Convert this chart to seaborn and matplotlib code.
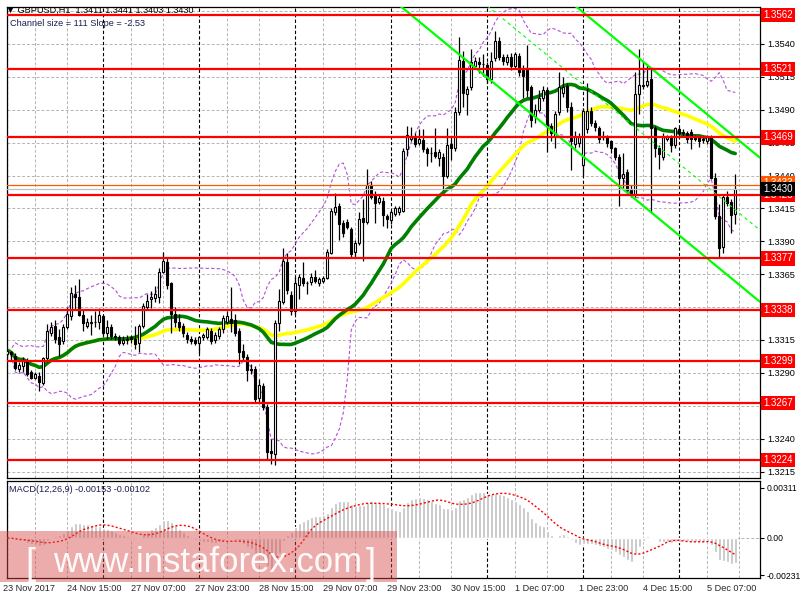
import numpy as np
import pandas as pd
import matplotlib
matplotlib.use("Agg")
import matplotlib.pyplot as plt
import matplotlib.transforms as mtransforms
from matplotlib.patches import Rectangle
import seaborn as sns

# GBPUSD H1 candles
opens = [
    1.3304, 1.3306, 1.3303, 1.3293, 1.3295, 1.3299, 1.3291, 1.3286, 1.3288, 1.3282,
    1.3301, 1.3320, 1.3326, 1.3317, 1.3314, 1.3325, 1.3333, 1.3350, 1.3348, 1.3334,
    1.3326, 1.3329, 1.3329, 1.3329, 1.3333, 1.3320, 1.3325, 1.3318, 1.3317, 1.3313,
    1.3315, 1.3317, 1.3316, 1.3313, 1.3326, 1.3340, 1.3346, 1.3347, 1.3348, 1.3367,
    1.3374, 1.3358, 1.3335, 1.3329, 1.3326, 1.3319, 1.3316, 1.3315, 1.3313, 1.3317,
    1.3317, 1.3322, 1.3315, 1.3318, 1.3323, 1.3329, 1.3331, 1.3330, 1.3322, 1.3307,
    1.3302, 1.3293, 1.3293, 1.3271, 1.3280, 1.3264, 1.3231, 1.3228, 1.3328, 1.3344,
    1.3374, 1.3349, 1.3337, 1.3357, 1.3362, 1.3358, 1.3359, 1.3363, 1.3358, 1.3360,
    1.3362, 1.3381, 1.3412, 1.3417, 1.3404, 1.3405, 1.3399, 1.3382, 1.3389, 1.3408,
    1.3405, 1.3433, 1.3426, 1.3420, 1.3421, 1.3409, 1.3406, 1.3411, 1.3412, 1.3413,
    1.3460, 1.3468, 1.3470, 1.3465, 1.3467, 1.3460, 1.3457, 1.3458, 1.3453, 1.3454,
    1.3440, 1.3464, 1.3461, 1.3488, 1.3527, 1.3502, 1.3507, 1.3523, 1.3526, 1.3525,
    1.3524, 1.3513, 1.3529, 1.3542, 1.3530, 1.3526, 1.3530, 1.3523, 1.3531, 1.3520,
    1.3520, 1.3507, 1.3485, 1.3490, 1.3499, 1.3505, 1.3478, 1.3469, 1.3488, 1.3503,
    1.3508, 1.3492, 1.3464, 1.3465, 1.3448, 1.3475, 1.3489, 1.3480, 1.3476, 1.3469,
    1.3469, 1.3466, 1.3461, 1.3454, 1.3438, 1.3443, 1.3429, 1.3426, 1.3502, 1.3508,
    1.3509, 1.3513, 1.3476, 1.3461, 1.3454, 1.3468, 1.3469, 1.3463, 1.3475, 1.3473,
    1.3472, 1.3473, 1.3469, 1.3469, 1.3468, 1.3466, 1.3469, 1.3438, 1.3409, 1.3386,
    1.3424, 1.3420, 1.3411,
]
highs = [
    1.3309, 1.3307, 1.3305, 1.3298, 1.3302, 1.3301, 1.3292, 1.3291, 1.3291, 1.3302,
    1.3327, 1.3329, 1.3330, 1.3323, 1.3327, 1.3340, 1.3355, 1.3357, 1.3361, 1.3338,
    1.3332, 1.3334, 1.3337, 1.3339, 1.3334, 1.3330, 1.3327, 1.3320, 1.3319, 1.3318,
    1.3319, 1.3319, 1.3326, 1.3327, 1.3343, 1.3350, 1.3352, 1.3356, 1.3370, 1.3382,
    1.3378, 1.3359, 1.3340, 1.3335, 1.3328, 1.3321, 1.3318, 1.3317, 1.3318, 1.3320,
    1.3325, 1.3324, 1.3321, 1.3325, 1.3334, 1.3337, 1.3355, 1.3335, 1.3324, 1.3312,
    1.3304, 1.3297, 1.3295, 1.3285, 1.3282, 1.3266, 1.3240, 1.3330, 1.3354, 1.3385,
    1.3381, 1.3352, 1.3363, 1.3365, 1.3374, 1.3360, 1.3366, 1.3368, 1.3363, 1.3364,
    1.3384, 1.3415, 1.3427, 1.3419, 1.3406, 1.3407, 1.3401, 1.3391, 1.3412, 1.3422,
    1.3445, 1.3436, 1.3428, 1.3425, 1.3424, 1.3411, 1.3414, 1.3417, 1.3417, 1.3461,
    1.3478, 1.3477, 1.3472, 1.3475, 1.3475, 1.3462, 1.3462, 1.3476, 1.3460, 1.3457,
    1.3476, 1.3470, 1.3492, 1.3545, 1.3535, 1.3508, 1.3536, 1.3530, 1.3530, 1.3532,
    1.3526, 1.3534, 1.3550, 1.3545, 1.3532, 1.3532, 1.3533, 1.3534, 1.3533, 1.3524,
    1.3539, 1.3509, 1.3494, 1.3505, 1.3508, 1.3507, 1.3480, 1.3489, 1.3519, 1.3515,
    1.3510, 1.3496, 1.3474, 1.3472, 1.3491, 1.3510, 1.3492, 1.3482, 1.3478, 1.3474,
    1.3471, 1.3467, 1.3462, 1.3456, 1.3457, 1.3445, 1.3433, 1.3519, 1.3536, 1.3526,
    1.3525, 1.3521, 1.3478, 1.3463, 1.3472, 1.3471, 1.3471, 1.3477, 1.3477, 1.3475,
    1.3474, 1.3475, 1.3471, 1.3470, 1.3470, 1.3471, 1.3471, 1.3442, 1.3418, 1.3426,
    1.3428, 1.3422, 1.3441,
]
lows = [
    1.3301, 1.3300, 1.3292, 1.3291, 1.3291, 1.3288, 1.3285, 1.3285, 1.3276, 1.3281,
    1.3298, 1.3318, 1.3313, 1.3303, 1.3312, 1.3323, 1.3330, 1.3338, 1.3333, 1.3322,
    1.3324, 1.3319, 1.3325, 1.3323, 1.3318, 1.3316, 1.3316, 1.3315, 1.3311, 1.3311,
    1.3312, 1.3313, 1.3308, 1.3306, 1.3324, 1.3338, 1.3339, 1.3344, 1.3343, 1.3366,
    1.3354, 1.3320, 1.3325, 1.3322, 1.3317, 1.3313, 1.3312, 1.3311, 1.3305, 1.3315,
    1.3316, 1.3312, 1.3313, 1.3316, 1.3320, 1.3327, 1.3321, 1.3318, 1.3297, 1.3299,
    1.3284, 1.3289, 1.3268, 1.3268, 1.3262, 1.3224, 1.3221, 1.3220, 1.3322, 1.3342,
    1.3350, 1.3334, 1.3335, 1.3346, 1.3356, 1.3350, 1.3357, 1.3358, 1.3356, 1.3358,
    1.3361, 1.3380, 1.3410, 1.3391, 1.3393, 1.3399, 1.3377, 1.3378, 1.3387, 1.3375,
    1.3403, 1.3422, 1.3404, 1.3418, 1.3402, 1.3400, 1.3403, 1.3409, 1.3410, 1.3412,
    1.3455, 1.3466, 1.3462, 1.3463, 1.3458, 1.3447, 1.3450, 1.3453, 1.3447, 1.3429,
    1.3438, 1.3452, 1.3459, 1.3486, 1.3492, 1.3486, 1.3505, 1.3521, 1.3518, 1.3516,
    1.3510, 1.3510, 1.3527, 1.3528, 1.3524, 1.3524, 1.3520, 1.3521, 1.3516, 1.3499,
    1.3500, 1.3477, 1.3480, 1.3488, 1.3497, 1.3458, 1.3466, 1.3461, 1.3486, 1.3500,
    1.3488, 1.3444, 1.3461, 1.3462, 1.3440, 1.3472, 1.3478, 1.3474, 1.3465, 1.3467,
    1.3462, 1.3457, 1.3452, 1.3417, 1.3430, 1.3425, 1.3424, 1.3424, 1.3487, 1.3506,
    1.3507, 1.3412, 1.3454, 1.3445, 1.3452, 1.3466, 1.3458, 1.3461, 1.3470, 1.3470,
    1.3465, 1.3460, 1.3466, 1.3462, 1.3465, 1.3464, 1.3437, 1.3407, 1.3377, 1.3381,
    1.3417, 1.3396, 1.3403,
]
closes = [
    1.3307, 1.3304, 1.3294, 1.3296, 1.3300, 1.3289, 1.3286, 1.3289, 1.3283, 1.3301,
    1.3322, 1.3325, 1.3316, 1.3312, 1.3325, 1.3335, 1.3351, 1.3348, 1.3334, 1.3328,
    1.3329, 1.3328, 1.3329, 1.3334, 1.3320, 1.3325, 1.3318, 1.3317, 1.3313, 1.3315,
    1.3316, 1.3316, 1.3312, 1.3326, 1.3341, 1.3345, 1.3348, 1.3350, 1.3367, 1.3375,
    1.3357, 1.3335, 1.3329, 1.3325, 1.3320, 1.3316, 1.3314, 1.3313, 1.3317, 1.3319,
    1.3323, 1.3314, 1.3319, 1.3323, 1.3332, 1.3333, 1.3328, 1.3320, 1.3306, 1.3302,
    1.3292, 1.3292, 1.3270, 1.3281, 1.3264, 1.3230, 1.3229, 1.3328, 1.3345, 1.3375,
    1.3353, 1.3337, 1.3358, 1.3363, 1.3358, 1.3358, 1.3363, 1.3360, 1.3361, 1.3362,
    1.3382, 1.3413, 1.3416, 1.3403, 1.3396, 1.3401, 1.3380, 1.3389, 1.3407, 1.3405,
    1.3433, 1.3424, 1.3419, 1.3423, 1.3410, 1.3407, 1.3412, 1.3415, 1.3415, 1.3459,
    1.3471, 1.3470, 1.3464, 1.3468, 1.3460, 1.3457, 1.3457, 1.3455, 1.3458, 1.3440,
    1.3463, 1.3461, 1.3488, 1.3528, 1.3503, 1.3506, 1.3526, 1.3527, 1.3525, 1.3525,
    1.3513, 1.3527, 1.3542, 1.3530, 1.3527, 1.3530, 1.3523, 1.3532, 1.3519, 1.3516,
    1.3505, 1.3482, 1.3490, 1.3499, 1.3505, 1.3478, 1.3472, 1.3487, 1.3507, 1.3507,
    1.3492, 1.3466, 1.3469, 1.3469, 1.3489, 1.3489, 1.3480, 1.3477, 1.3468, 1.3470,
    1.3465, 1.3461, 1.3454, 1.3438, 1.3441, 1.3429, 1.3427, 1.3502, 1.3509, 1.3509,
    1.3512, 1.3476, 1.3461, 1.3456, 1.3469, 1.3469, 1.3463, 1.3476, 1.3472, 1.3472,
    1.3468, 1.3468, 1.3468, 1.3466, 1.3467, 1.3469, 1.3438, 1.3409, 1.3385, 1.3424,
    1.3419, 1.3410, 1.3430,
]

# horizontal levels drawn on the chart
levels = [1.3562, 1.3521, 1.3469, 1.3425, 1.3377, 1.3338, 1.3299, 1.3267, 1.3224]
ask_price = 1.3433
bid_price = 1.3430

# regression channel (bar index, price) end points
chan_lower = ([98.2, 188.2], [1.3569, 1.3344])
chan_mid = ([120.0, 188.2], [1.3569, 1.33985])
chan_upper = ([142.0, 188.2], [1.3569, 1.34535])

price_ticks = [1.3565, 1.3540, 1.3515, 1.3490, 1.3465, 1.3440, 1.3415, 1.3390,
               1.3365, 1.3340, 1.3315, 1.3290, 1.3265, 1.3240, 1.3215]
macd_ticks = [0.00311, 0.0, -0.00231]
macd_tick_labels = ["0.00311", "0.00", "-0.00231"]

time_labels = ["23 Nov 2017", "24 Nov 15:00", "27 Nov 07:00", "27 Nov 23:00",
               "28 Nov 15:00", "29 Nov 07:00", "29 Nov 23:00", "30 Nov 15:00",
               "1 Dec 07:00", "1 Dec 23:00", "4 Dec 15:00", "5 Dec 07:00"]
time_label_bars = [-1, 15, 31, 47, 63, 79, 95, 111, 127, 143, 159, 175]

header = "GBPUSD,H1  1.3411 1.3441 1.3403 1.3430"
channel_text = "Channel size = 111 Slope = -2.53"
macd_text = "MACD(12,26,9) -0.00153 -0.00102"

# ---------------------------------------------------------------
sns.set_style("white")
plt.rcParams["font.family"] = ["Liberation Sans", "DejaVu Sans"]
FS = 6.6

n = len(closes)
bars = np.arange(n)
o = np.array(opens); h = np.array(highs); l = np.array(lows); c = np.array(closes)

cs = pd.Series(closes)
ma_fast = cs.rolling(30, min_periods=1).mean()
ma_slow = cs.rolling(50, min_periods=1).mean()
bb_mid = cs.rolling(20, min_periods=1).mean()
bb_sd = cs.rolling(20, min_periods=1).std(ddof=0)
bb_up = bb_mid + 2 * bb_sd
bb_dn = bb_mid - 2 * bb_sd
macd = cs.ewm(span=12, adjust=False).mean() - cs.ewm(span=26, adjust=False).mean()
signal = macd.rolling(9, min_periods=1).mean()

W, H = 800, 600
def rect(x0, y0, x1, y1):
    return [x0 / W, 1 - y1 / H, (x1 - x0) / W, (y1 - y0) / H]

fig = plt.figure(figsize=(8, 6), dpi=100)
ax = fig.add_axes(rect(7, 7, 760, 478))
axm = fig.add_axes(rect(7, 481, 760, 578))

xlim = (-0.075, 188.2)
ax.set_xlim(xlim); axm.set_xlim(xlim)
ax.set_ylim(1.32101, 1.35681)
axm.set_ylim(-0.00249, 0.003545)

dash = (0, (3, 2))
grid_bars = [b for b in range(7, 189, 8) if (b + 1) % 24 != 0]
day_bars = list(range(0, 189, 24))
for a in (ax, axm):
    for b in grid_bars:
        a.axvline(b, color="#b4b4b4", lw=0.7, ls=dash, zorder=1)
    for b in day_bars:
        a.axvline(b, color="black", lw=0.8, ls=dash, zorder=1.2)
for p in price_ticks:
    ax.axhline(p, color="#b4b4b4", lw=0.7, ls=dash, zorder=1)
axm.axhline(0, color="#b4b4b4", lw=0.7, ls=dash, zorder=1)

# bollinger bands
sns.lineplot(x=bars, y=bb_up, ax=ax, color="#b450d8", lw=0.8, ls=dash, zorder=2)
sns.lineplot(x=bars, y=bb_dn, ax=ax, color="#b450d8", lw=0.8, ls=dash, zorder=2)
# moving averages
sns.lineplot(x=bars, y=ma_slow, ax=ax, color="#ffff00", lw=2.6, zorder=3)
sns.lineplot(x=bars, y=ma_fast, ax=ax, color="#008000", lw=2.6, zorder=3.1)

# candles
body_lo = np.minimum(o, c)
body_h = np.abs(c - o)
fills = np.where(c >= o, "white", "black")
ax.vlines(bars, l, h, color="black", lw=0.9, zorder=3.9)
ax.bar(bars, body_h, bottom=body_lo, width=0.6, color=fills, edgecolor="black",
       linewidth=0.8, zorder=4)

# regression channel
sns.lineplot(x=chan_lower[0], y=chan_lower[1], ax=ax, color="#00ff00", lw=1.6, zorder=4.5)
sns.lineplot(x=chan_upper[0], y=chan_upper[1], ax=ax, color="#00ff00", lw=1.6, zorder=4.5)
sns.lineplot(x=chan_mid[0], y=chan_mid[1], ax=ax, color="#00ff00", lw=0.8, ls=(0, (3, 3)), zorder=4.5)

# levels and price labels
ytrans = mtransforms.blended_transform_factory(ax.transAxes, ax.transData)
ax.axhline(ask_price, color="#ff5a00", lw=0.9, zorder=4.6)
ax.axhline(bid_price, color="#c0c0c0", lw=0.9, zorder=4.6)
for lv in levels:
    ax.axhline(lv, color="#ff0000", lw=1.6, zorder=5)
    ax.text(1.004, lv, f"{lv:.4f}", transform=ytrans, ha="left", va="center",
            color="white", fontsize=FS + 0.4, zorder=6, clip_on=False,
            bbox=dict(boxstyle="square,pad=0.22", fc="#ff0000", ec="none"))
ax.text(1.004, ask_price + 0.0001, f"{ask_price:.4f}", transform=ytrans, ha="left",
        va="center", color="white", fontsize=FS + 0.4, zorder=6, clip_on=False,
        bbox=dict(boxstyle="square,pad=0.22", fc="#ff5a00", ec="none"))
ax.text(1.004, bid_price - 0.00002, f"{bid_price:.4f}", transform=ytrans, ha="left",
        va="center", color="white", fontsize=FS + 0.4, zorder=6.5, clip_on=False,
        bbox=dict(boxstyle="square,pad=0.22", fc="black", ec="none"))

# macd panel
axm.bar(bars, macd, width=0.68, color="#c0c0c0", zorder=2)
sns.lineplot(x=bars, y=signal, ax=axm, color="#ff0000", lw=1.0, ls=(0, (1.5, 1.5)), zorder=3)

# axes cosmetics
for a in (ax, axm):
    a.set_xlabel(""); a.set_ylabel("")
    a.yaxis.tick_right()
    a.tick_params(axis="y", length=3, width=0.8, pad=2, labelsize=FS, colors="black")
    for s in a.spines.values():
        s.set_color("black"); s.set_linewidth(0.9); s.set_visible(True)
ax.set_yticks(price_ticks)
ax.set_yticklabels([f"{p:.4f}" for p in price_ticks])
axm.set_yticks(macd_ticks)
axm.set_yticklabels(macd_tick_labels)
axm.tick_params(axis="y", labelsize=FS - 0.4, pad=1.5)
ax.set_xticks([])
in_range = [b for b in time_label_bars if b >= 0]
axm.set_xticks(in_range)
axm.set_xticklabels([""] * len(in_range))
axm.tick_params(axis="x", length=3, width=0.8)
xtrans = mtransforms.blended_transform_factory(axm.transData, axm.transAxes)
for b, t in zip(time_label_bars, time_labels):
    axm.text(b, -0.105, t, transform=xtrans, ha="left", va="center",
             fontsize=FS, clip_on=False)

# header texts
fig.text(6 / W, 1 - 10.5 / H, "\u25bc " + header, fontsize=FS, va="center", ha="left",
         color="black", zorder=10)
fig.text(10 / W, 1 - 24 / H, channel_text, fontsize=FS, va="center", ha="left",
         color="#1c1c50", zorder=10)
fig.text(9 / W, 1 - 490 / H, macd_text, fontsize=FS, va="center", ha="left",
         color="#1c1c50", zorder=10)

# watermark
fig.patches.append(Rectangle((0, 1 - 582 / H), 397 / W, 51 / H, transform=fig.transFigure,
                             facecolor="#d84848", alpha=0.45, edgecolor="none", zorder=8))
fig.text(25 / W, 1 - 564 / H, "[", fontsize=26, color="white", alpha=0.95,
         va="center", ha="left", zorder=9, fontweight="light")
fig.text(53 / W, 1 - 562 / H, "www.instaforex.com", fontsize=25, color="white",
         alpha=0.95, va="center", ha="left", zorder=9)
fig.text(366 / W, 1 - 564 / H, "]", fontsize=26, color="white", alpha=0.95,
         va="center", ha="left", zorder=9)

fig.savefig("out.png", dpi=100)
